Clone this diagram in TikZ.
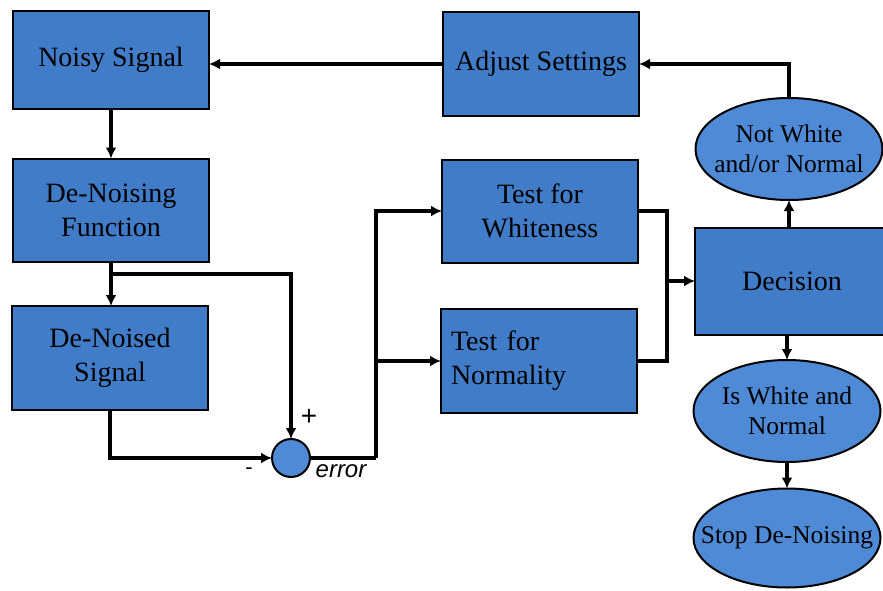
\documentclass[tikz,border=0pt]{standalone}
\usepackage{fontspec}
\setmainfont{Liberation Serif}
\newfontfamily\signfont{Liberation Sans}
\usepackage{xcolor}
\usepackage{tikz}
\usetikzlibrary{arrows.meta,shapes.geometric}

\definecolor{boxblue}{RGB}{64,124,200}
\definecolor{ovalblue}{RGB}{78,138,214}

\begin{document}
\begin{tikzpicture}[x=1pt,y=-1pt]
			\tikzstyle{block} = [draw, line width=2pt, fill=boxblue, inner sep=0pt, outer sep=0pt, minimum width=196pt, minimum height=102pt, align=center, font=\fontsize{28}{34}\selectfont]
			\tikzstyle{outcome} = [ellipse, draw, line width=2pt, fill=ovalblue, inner xsep=-14pt, inner ysep=-6pt, outer sep=0pt, minimum width=187pt, minimum height=102pt, align=center, font=\fontsize{25.5}{30}\selectfont]
			\tikzstyle{summer} = [circle, draw, line width=2pt, fill=ovalblue, inner sep=0pt, outer sep=0pt, minimum size=38pt]
			\tikzstyle{sign} = [inner sep=0pt, font=\signfont\fontsize{28}{28}\selectfont]
			\tikzset{edge/.style = {line width=3.2pt, -{Latex[length=11pt,width=11pt]}}}
			\useasboundingbox (0,0) rectangle (883,591);
			
			\node[block, minimum height=98pt](noisy) at (111,60) {Noisy Signal};
			\node[block, minimum height=103pt](denoising) at (111,210) {De-Noising\\Function};
			\node[block, minimum height=104pt](denoised) at (110,358) {De-Noised\\Signal};
			\node[summer](sum) at (291,458) {};
			
			\node[block, minimum height=104pt](adjust) at (541,64) {Adjust Settings};
			\node[block, minimum height=103pt](white) at (540,211) {Test for\\Whiteness};
			\node[block, minimum height=104pt, align=left, text width=176pt](normal) at (539,361) {Test for\\Normality};
			
			\node[block, minimum width=194pt, minimum height=107pt](decision) at (792,281) {Decision};
			\node[outcome](notwhite) at (789,149) {Not White\\and/or Normal};
			\node[outcome](iswhite) at (787,411) {Is White and\\Normal};
			\node[outcome, minimum height=99pt, inner xsep=-22pt](stop) at (787,538) {Stop De-Noising};
			
			\node[sign](plus) at (309,417) {+};
			\node[sign, font=\signfont\fontsize{22}{22}\selectfont](minus) at (249,471) {-};
			\node[sign, font=\signfont\itshape\fontsize{24}{24}\selectfont](err) at (341,471) {error};
			
			\coordinate (split) at (111,274);
			\coordinate (errjoint) at (376,458);
			\coordinate (merge) at (667,281);
			
			\draw[edge](adjust.west) to (adjust.west -| noisy.east);
			\draw[edge](noisy) to (denoising);
			\draw[edge](denoising.south) to (denoising.south |- denoised.north);
			\draw[edge](split) -| (sum.north);
			\draw[edge](denoised.south) |- (sum.west);
			\draw[line width=3.2pt](sum.east) -- (errjoint);
			\draw[edge](errjoint) |- (white.west);
			\draw[edge](errjoint |- normal.west) to (normal.west);
			\draw[line width=3.2pt](white.east) -| (merge) |- (normal.east);
			\draw[edge](merge) to (decision.west);
			\draw[edge](notwhite.south |- decision.north) to (notwhite.south);
			\draw[edge](notwhite.north) |- (adjust.east);
			\draw[edge](iswhite.north |- decision.south) to (iswhite.north);
			\draw[edge](iswhite) to (stop);
			
			\end{tikzpicture}
\end{document}
